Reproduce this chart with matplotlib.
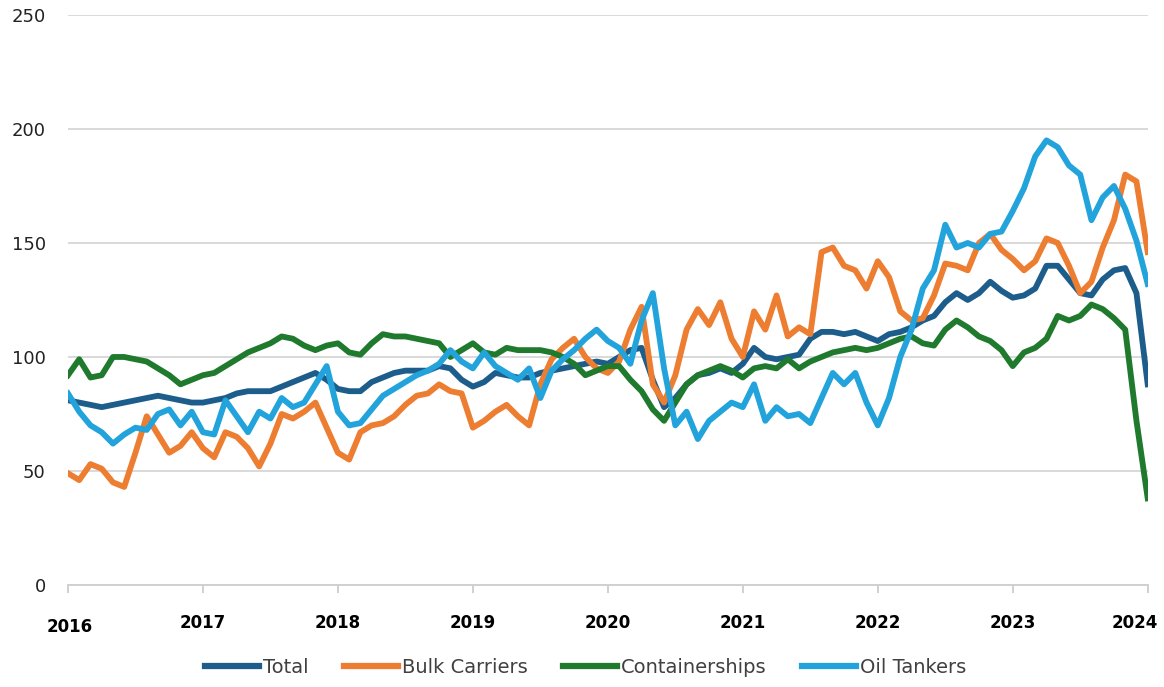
import numpy as np
import matplotlib
matplotlib.use('Agg')
import matplotlib.pyplot as plt
import matplotlib.transforms as mtransforms

# monthly readings, Jan 2016 .. Jan 2024
total = [81, 80, 79, 78, 79, 80, 81, 82, 83, 82, 81, 80,
         80, 81, 82, 84, 85, 85, 85, 87, 89, 91, 93, 90,
         86, 85, 85, 89, 91, 93, 94, 94, 94, 96, 95, 90,
         87, 89, 93, 92, 91, 91, 93, 94, 95, 96, 97, 98,
         97, 100, 103, 104, 90, 78, 82, 88, 92, 93, 95, 93,
         97, 104, 100, 99, 100, 101, 108, 111, 111, 110, 111, 109,
         107, 110, 111, 113, 116, 118, 124, 128, 125, 128, 133, 129,
         126, 127, 130, 140, 140, 134, 128, 127, 134, 138, 139, 128,
         88]
bulk = [49, 46, 53, 51, 45, 43, 58, 74, 66, 58, 61, 67,
        60, 56, 67, 65, 60, 52, 62, 75, 73, 76, 80, 69,
        58, 55, 67, 70, 71, 74, 79, 83, 84, 88, 85, 84,
        69, 72, 76, 79, 74, 70, 88, 99, 104, 108, 100, 95,
        93, 98, 112, 122, 88, 80, 92, 112, 121, 114, 124, 108,
        100, 120, 112, 127, 109, 113, 110, 146, 148, 140, 138, 130,
        142, 135, 120, 116, 117, 127, 141, 140, 138, 150, 154, 147,
        143, 138, 142, 152, 150, 140, 128, 133, 148, 160, 180, 177,
        146]
container = [92, 99, 91, 92, 100, 100, 99, 98, 95, 92, 88, 90,
             92, 93, 96, 99, 102, 104, 106, 109, 108, 105, 103, 105,
             106, 102, 101, 106, 110, 109, 109, 108, 107, 106, 100, 103,
             106, 102, 101, 104, 103, 103, 103, 102, 100, 97, 92, 94,
             96, 96, 90, 85, 77, 72, 80, 88, 92, 94, 96, 94,
             91, 95, 96, 95, 99, 95, 98, 100, 102, 103, 104, 103,
             104, 106, 108, 109, 106, 105, 112, 116, 113, 109, 107, 103,
             96, 102, 104, 108, 118, 116, 118, 123, 121, 117, 112, 72,
             38]
oil = [84, 76, 70, 67, 62, 66, 69, 68, 75, 77, 70, 76,
       67, 66, 81, 74, 67, 76, 73, 82, 78, 80, 88, 96,
       76, 70, 71, 77, 83, 86, 89, 92, 94, 97, 103, 98,
       95, 102, 96, 93, 90, 95, 82, 94, 99, 103, 108, 112,
       107, 104, 97, 116, 128, 95, 70, 76, 64, 72, 76, 80,
       78, 88, 72, 78, 74, 75, 71, 82, 93, 88, 93, 80,
       70, 82, 100, 112, 130, 138, 158, 148, 150, 148, 154, 155,
       164, 174, 188, 195, 192, 184, 180, 160, 170, 175, 165, 151,
       132]

labels = ['Total', 'Bulk Carriers', 'Containerships', 'Oil Tankers']
colors = ['#1d5d8b', '#ed7d31', '#1f7a2e', '#22a3db']
years = list(range(2016, 2025))

t = 2016 + np.arange(len(total)) / 12.0

fig = plt.figure(figsize=(11.64, 6.87), dpi=100)
ax = fig.add_axes([0.0584, 0.1485, 0.9276, 0.8297])

for s, lab, c in zip([total, bulk, container, oil], labels, colors):
    ax.plot(t, s, color=c, lw=4.2, label=lab, solid_joinstyle='round')

ax.set_xlim(2016, 2024)
ax.set_ylim(0, 250)
ax.set_yticks(range(0, 251, 50))
ax.yaxis.grid(True, color='#d9d9d9', lw=1.4)
ax.set_axisbelow(True)

for side in ['left', 'right', 'top']:
    ax.spines[side].set_visible(False)
ax.spines['bottom'].set_color('#d0d0d0')
ax.spines['bottom'].set_linewidth(1.4)

ax.tick_params(axis='y', length=0, pad=16, labelsize=13, labelcolor='#222222')
ax.set_xticks(years)
ax.set_xticklabels([str(y) for y in years], fontweight='bold', fontsize=12)
ax.tick_params(axis='x', length=6, color='#c8c8c8', width=1.2, pad=15)
lbls = ax.get_xticklabels()
lbls[-1].set_transform(lbls[-1].get_transform() +
                       mtransforms.ScaledTranslation(-13 / 100, 0, fig.dpi_scale_trans))
lbls[0].set_transform(lbls[0].get_transform() +
                      mtransforms.ScaledTranslation(2 / 100, -4 / 100, fig.dpi_scale_trans))

leg = fig.legend(loc='center', bbox_to_anchor=(0.503, 0.029), ncol=4, frameon=False,
                 fontsize=14, handlelength=2.8, handletextpad=0.2, columnspacing=1.8)
for txt in leg.get_texts():
    txt.set_color('#404040')
for h in leg.get_lines():
    h.set_linewidth(4.5)

fig.savefig('out.png', dpi=100)
